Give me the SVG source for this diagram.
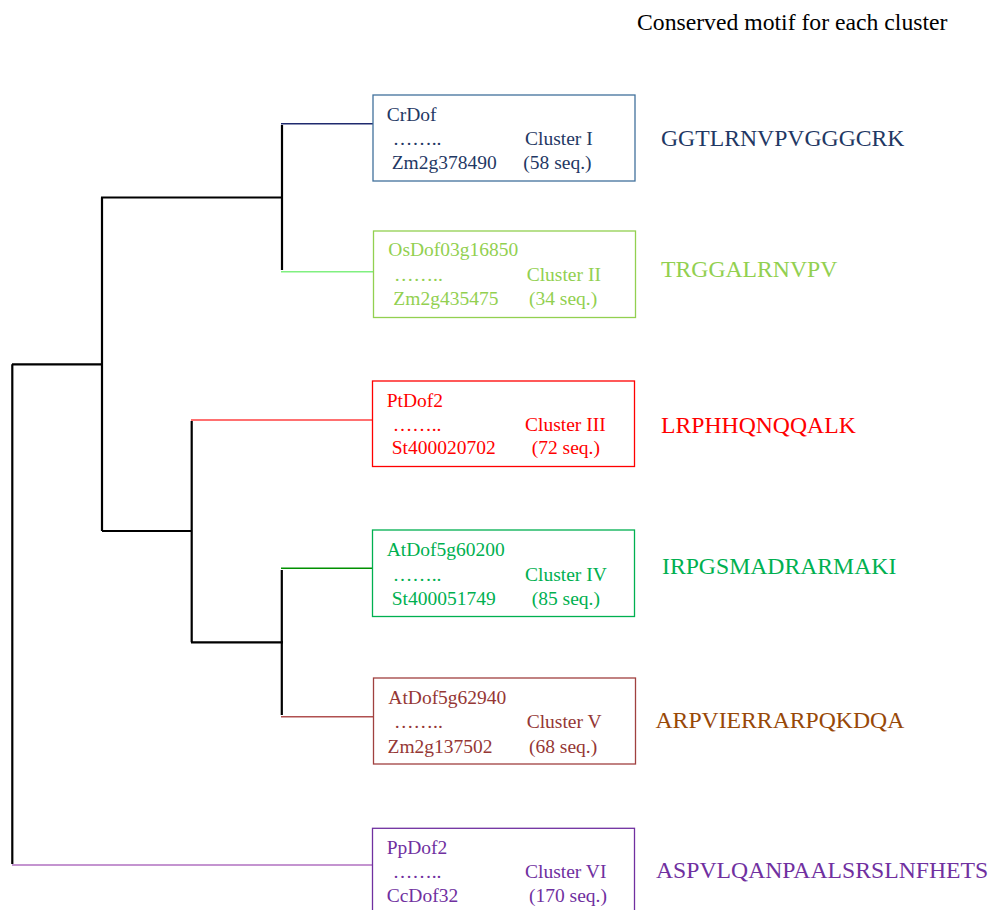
<svg xmlns="http://www.w3.org/2000/svg" width="993" height="910" viewBox="0 0 993 910">
<style>
text{font-family:"Liberation Serif","Times New Roman",serif}
.t{font-size:19.5px}
.m{font-size:23.7px}
.box{fill:none;stroke-width:1.3}
.tree{fill:none;stroke:#000;stroke-width:2.2}
.br{fill:none;stroke-width:1.4}
.c1{fill:#1f3864}.c2{fill:#92d050}.c3{fill:#ff0000}.c4{fill:#00b050}.c5{fill:#953735}.c6{fill:#7030a0}
</style>
<rect width="993" height="910" fill="#fff"/>
<text x="637" y="30" class="m" fill="#000">Conserved motif for each cluster</text>
<g id="connectors">
<path class="tree" d="M282,125V270M101,197.5H283M102,197.5V531M12,364.3H103M12.3,364.3V864M102,531H192M191.7,421V642.3M191,642.3H283M281.8,570V715"/>
<path class="br" stroke="#1f2a6e" d="M281,123.7H373"/>
<path class="br" stroke="#80f080" d="M281,271.7H373.5"/>
<path class="br" stroke="#ff4040" d="M191,420H372.5"/>
<path class="br" stroke="#009000" d="M281,568.3H372.5"/>
<path class="br" stroke="#b05050" d="M281,716.7H373.5"/>
<path class="br" stroke="#b070c0" d="M12,865H372.5"/>
</g>
<g id="cluster1">
<rect class="box" stroke="#41719c" x="373" y="95" width="262" height="86"/>
<g class="c1 t"><text x="386.7" y="120.7">CrDof</text><text x="392.7" y="145">……..</text><text x="525" y="145">Cluster I</text><text x="391.7" y="169">Zm2g378490</text><text x="523.3" y="169">(58 seq.)</text></g>
<text class="c1 m" x="661" y="146">GGTLRNVPVGGGCRK</text>
</g>
<g id="cluster2">
<rect class="box" stroke="#92d050" x="373.5" y="231" width="262" height="86.5"/>
<g class="c2 t"><text x="388.3" y="255.7">OsDof03g16850</text><text x="394" y="281">……..</text><text x="526.7" y="281">Cluster II</text><text x="393.3" y="305">Zm2g435475</text><text x="529" y="305">(34 seq.)</text></g>
<text class="c2 m" x="661" y="277">TRGGALRNVPV</text>
</g>
<g id="cluster3">
<rect class="box" stroke="#ff0000" x="372.5" y="381" width="262" height="85.5"/>
<g class="c3 t"><text x="386.7" y="406.7">PtDof2</text><text x="392.7" y="431">……..</text><text x="525" y="431">Cluster III</text><text x="391.7" y="454">St400020702</text><text x="531.7" y="454">(72 seq.)</text></g>
<text class="c3 m" x="661" y="433">LRPHHQNQQALK</text>
</g>
<g id="cluster4">
<rect class="box" stroke="#00b050" x="372.5" y="530" width="262" height="86.5"/>
<g class="c4 t"><text x="386.7" y="555.7">AtDof5g60200</text><text x="392.7" y="581">……..</text><text x="525" y="581">Cluster IV</text><text x="391.7" y="604.5">St400051749</text><text x="531.7" y="604.5">(85 seq.)</text></g>
<text class="c4 m" x="662" y="574">IRPGSMADRARMAKI</text>
</g>
<g id="cluster5">
<rect class="box" stroke="#a0403f" x="373.5" y="678" width="262" height="86"/>
<g class="c5 t"><text x="388.3" y="703.7">AtDof5g62940</text><text x="394" y="728">……..</text><text x="526.7" y="728">Cluster V</text><text x="387.5" y="753">Zm2g137502</text><text x="529" y="753">(68 seq.)</text></g>
<text class="m" fill="#984807" x="655.5" y="728">ARPVIERRARPQKDQA</text>
</g>
<g id="cluster6">
<rect class="box" stroke="#7030a0" x="372.5" y="828.3" width="262" height="90"/>
<g class="c6 t"><text x="386.7" y="854">PpDof2</text><text x="392.7" y="878.3">……..</text><text x="525" y="878.3">Cluster VI</text><text x="386.7" y="902">CcDof32</text><text x="529" y="902">(170 seq.)</text></g>
<text class="c6 m" x="656" y="878">ASPVLQANPAALSRSLNFHETS</text>
</g>
</svg>
